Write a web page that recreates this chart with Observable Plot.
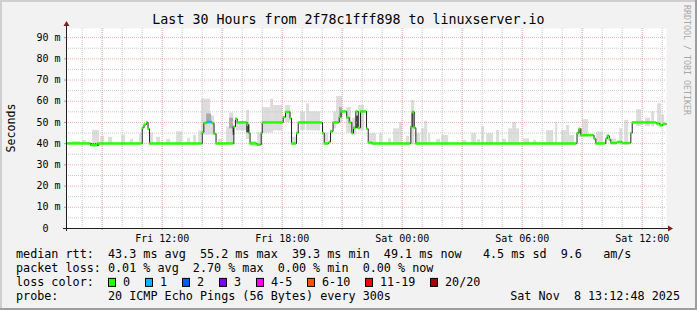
<!DOCTYPE html>
<html><head><meta charset="utf-8">
<script src="https://cdn.jsdelivr.net/npm/d3@7"></script>
<script src="https://cdn.jsdelivr.net/npm/@observablehq/plot@0.6"></script>
<style>
html,body{margin:0;padding:0;background:#f2f2f2;}
#chart{position:relative;width:697px;height:310px;overflow:hidden;}
svg text{white-space:pre;}
</style></head><body><div id="chart"></div>
<script>
// ---------- data ----------
const title = "Last 30 Hours from 2f78c1fff898 to linuxserver.io";
const yLabel = "Seconds";
const watermark = "RRDTOOL / TOBI OETIKER";
// hours since Fri Nov 7 2025 00:00
const rangeStart = 7 + 12.8 / 60;   // Fri 07:12:48
const rangeEnd = 37 + 12.8 / 60;    // Sat 13:12:48

// median rtt (ms), step breakpoints
const medHour = [7.21, 8.45, 8.78, 11.0, 11.09, 11.215, 11.29, 11.365, 14.0, 14.08, 14.25, 14.5, 14.59, 14.69,
  15.58, 15.665, 15.75, 16.25, 16.33, 16.39, 16.74, 16.95, 17.0, 18.05, 18.165, 18.39, 18.465, 18.715, 18.8,
  20.015, 20.1, 20.34, 20.415, 20.54, 20.85, 20.94, 21.225, 21.35, 21.48, 21.565, 21.68, 21.8, 21.915, 22.215,
  22.3, 22.5, 24.43, 24.5, 24.6, 24.68, 32.74, 32.84, 32.93, 33.59, 33.68, 34.18, 34.25, 34.35, 34.43, 34.75,
  35.0, 35.43, 35.5, 36.72, 36.89, 37.04];
const medValue = [40.1, 39.3, 40.1, 47.5, 49, 50, 47, 40.1, 45.4, 49.8, 50.2, 49.6, 44.7, 40.1,
  48, 51.7, 50, 49, 45, 40.1, 39.5, 45, 50, 52.5, 55, 52, 40.1, 45, 50,
  45, 40.1, 40.8, 45.8, 50, 52.6, 55.2, 52.3, 50, 45, 47.5, 55.2, 47.5, 55.2, 47,
  40.5, 40.1, 48, 55, 47.5, 40.1, 45, 47, 44, 42.3, 40.1, 42.3, 43.8, 42, 40.3, 40.8,
  40.3, 45, 50, 49.5, 48.7, 49.3];

// packet loss events (pings lost out of 20)
const lossStart = [14.25];
const lossEnd = [14.5];
const lossCount = [1];

// smoke (ping spread), light layer
const smokeStart = [7.52, 8.02, 8.52, 8.92, 9.32, 9.97, 10.42, 10.87, 11.42, 11.72, 12.22, 12.72, 13.27, 13.57, 13.82,
  13.97, 14.42, 14.82, 15.22, 15.37, 15.72, 16.22, 16.42, 16.77, 17.02, 17.42, 17.57, 18.17, 18.52, 18.92, 19.22,
  19.37, 20.12, 20.57, 20.72, 21.22, 21.52, 21.82, 22.37, 22.87, 23.32, 23.57, 23.87, 24.22, 24.47, 24.72, 24.97,
  25.12, 25.32, 25.72, 25.97, 27.02, 27.47, 27.77, 27.97, 28.22, 28.72, 29.02, 29.32, 29.52, 29.72, 30.07, 30.57,
  31.22, 31.67, 31.97, 32.22, 32.37, 32.82, 33.02, 33.72, 34.47, 34.87, 35.12, 35.72, 36.17, 36.47, 36.77, 36.97];
const smokeEnd = [7.92, 8.22, 8.87, 9.12, 9.52, 10.17, 10.57, 10.97, 11.57, 11.92, 12.42, 13.02, 13.42, 13.72, 13.97,
  14.42, 14.62, 15.02, 15.37, 15.57, 16.22, 16.37, 16.72, 16.97, 17.42, 17.57, 18.02, 18.42, 18.72, 19.17, 19.37,
  19.92, 20.32, 20.72, 21.02, 21.47, 21.72, 22.12, 22.72, 23.02, 23.47, 23.87, 24.02, 24.37, 24.62, 24.92, 25.12,
  25.27, 25.42, 25.92, 26.32, 27.22, 27.72, 27.92, 28.12, 28.57, 28.87, 29.22, 29.52, 29.72, 29.87, 30.37, 30.72,
  31.57, 31.77, 32.22, 32.37, 32.62, 33.02, 33.32, 34.07, 34.72, 35.02, 35.32, 35.97, 36.42, 36.62, 36.97, 37.12];
const smokeLow = [39.5, 39.5, 38.5, 39, 39.5, 39.5, 39.5, 39.5, 39.5, 39.5, 39.5, 39.5, 39.5, 39.5, 39.5,
  44, 44, 39, 39.5, 39.5, 46, 42, 38.5, 39, 45, 45, 46, 50, 39, 46, 46,
  46, 39, 47, 50, 45, 44, 46, 39.3, 39.3, 39.3, 39.3, 39.3, 39.3, 39.5, 39.3, 39.3,
  39.3, 39.3, 39.5, 39.3, 39.5, 39.3, 39.5, 39.3, 39.3, 39.3, 39.5, 39.3, 39.3, 39.3, 39.5, 39.5,
  39.3, 39.3, 39.3, 39.3, 39.3, 43, 43, 39.3, 39.5, 39.3, 39.3, 48, 48, 48, 48, 48];
const smokeHigh = [41, 41.5, 46.3, 43.5, 43, 44, 42, 44.5, 45, 43, 42, 45.6, 42.5, 44, 46,
  61, 53, 42, 47.8, 54.4, 50.5, 55.7, 41, 45, 57, 61, 58, 58, 43, 55, 58.8,
  55, 45, 55, 62.3, 57, 52, 58, 44.7, 44.7, 42.3, 47, 50, 43.5, 60.4, 44.7, 47,
  50.6, 44.7, 42, 43.9, 41.5, 44.7, 42, 48, 44.7, 46.2, 42, 47, 50, 47, 42.3, 41.5,
  46.2, 50, 46.2, 48.6, 43.9, 47, 51.3, 45.5, 42.3, 47, 51, 56, 52, 55, 58.8, 53.5];

// smoke, medium layer
const midStart = [14.22, 15.37, 20.87, 24.47];
const midEnd = [14.47, 15.57, 21.02, 24.62];
const midLow = [50, 47, 52, 47];
const midHigh = [54, 52, 57, 54];

// smoke, dark layer
const darkStart = [8.42, 15.54, 16.22, 21.72];
const darkEnd = [8.87, 15.62, 16.37, 21.82];
const darkLow = [38.8, 44, 45, 47];
const darkHigh = [40, 48, 49, 53];

const yTicks = [0, 10, 20, 30, 40, 50, 60, 70, 80, 90];
const yMinor = [5, 15, 25, 35, 45, 55, 65, 75, 85];
const xLabelHours = [12, 18, 24, 30, 36];
const xMajorHours = [9, 12, 15, 18, 21, 24, 27, 30, 33, 36];
const xMinorHours = d3.range(8, 38);

const legendLines = [
  "median rtt:  43.3 ms avg  55.2 ms max  39.3 ms min  49.1 ms now   4.5 ms sd  9.6   am/s",
  "packet loss: 0.01 % avg  2.70 % max  0.00 % min  0.00 % now",
  "loss color:",
  "probe:       20 ICMP Echo Pings (56 Bytes) every 300s"
];
const lossLabels = ["0", "1", "2", "3", "4-5", "6-10", "11-19", "20/20"];
const lossColors = ["#26ff00", "#00b8ff", "#0059ff", "#7e00ff", "#ff00ff", "#ff5500", "#ff0000", "#a10000"];
const dateText = "Sat Nov  8 13:12:48 2025";

// ---------- chart ----------
const mono = "'DejaVu Sans Mono', 'Liberation Mono', monospace";
const base = Date.UTC(2025, 10, 7);
const T = h => new Date(base + h * 3600e3);
const n = medHour.length;
const segEnd = i => (i + 1 < n ? medHour[i + 1] : rangeEnd);
function lossClass(i) {
  const mid = (medHour[i] + segEnd(i)) / 2;
  for (let k = 0; k < lossStart.length; k++) {
    if (mid >= lossStart[k] && mid < lossEnd[k]) {
      const c = lossCount[k];
      return c <= 3 ? c : c <= 5 ? 4 : c <= 10 ? 5 : c <= 19 ? 6 : 7;
    }
  }
  return 0;
}
const rectLayer = (s, e, lo, hi, fill) =>
  Plot.rect(d3.range(s.length), {
    x1: i => T(s[i]), x2: i => T(e[i]), y1: i => lo[i], y2: i => hi[i], fill
  });

const plot = Plot.plot({
  width: 697, height: 310,
  marginLeft: 66, marginRight: 31, marginTop: 28, marginBottom: 82,
  style: {background: "transparent", fontFamily: mono, color: "#000", overflow: "visible"},
  x: {type: "utc", domain: [T(rangeStart), T(rangeEnd)]},
  y: {domain: [0, 94.3]},
  marks: [
    Plot.frame({fill: "#ffffff", stroke: null}),
    rectLayer(smokeStart, smokeEnd, smokeLow, smokeHigh, "#dcdcdc"),
    rectLayer(midStart, midEnd, midLow, midHigh, "#a9a9a9"),
    rectLayer(darkStart, darkEnd, darkLow, darkHigh, "#4a4a4a"),
    Plot.gridX(xMinorHours.map(T), {stroke: "#c8c8c8", strokeOpacity: 1, strokeDasharray: "1,1"}),
    Plot.gridY(yMinor, {stroke: "#c8c8c8", strokeOpacity: 1, strokeDasharray: "1,1"}),
    Plot.gridX(xMajorHours.map(T), {stroke: "#eeb0b0", strokeOpacity: 1, strokeDasharray: "1,1"}),
    Plot.gridY(yTicks.slice(1), {stroke: "#eeb0b0", strokeOpacity: 1, strokeDasharray: "1,1"}),
    Plot.line(d3.range(n + 1), {
      x: i => T(i < n ? medHour[i] : rangeEnd), y: i => medValue[Math.min(i, n - 1)],
      curve: "step-after", stroke: "#202020", strokeWidth: 1
    }),
    Plot.ruleY(d3.range(n), {
      y: i => medValue[i], x1: i => T(medHour[i]), x2: i => T(segEnd(i)),
      stroke: i => lossColors[lossClass(i)], strokeWidth: 2.5
    }),
    Plot.axisY(yTicks, {
      tickSize: 2, tickPadding: 4, fontSize: 10, fill: "#000", stroke: "#e08a8a",
      tickFormat: d => (d === 0 ? "0\u00a0\u00a0" : `${d} m`), label: null
    }),
    Plot.axisX(xMajorHours.map(T), {tickSize: 2, stroke: "#e08a8a", tickFormat: () => "", label: null}),
    Plot.axisX(xLabelHours.map(T), {
      tickSize: 0, tickPadding: 6, fontSize: 10, fill: "#000",
      tickFormat: d3.utcFormat("%a %H:%M"), label: null
    })
  ]
});
document.getElementById("chart").appendChild(plot);

// ---------- decorations: axis lines, arrows, texts, legend, border ----------
const svg = d3.select(plot);
const xs = plot.scale("x"), ys = plot.scale("y");
const X0 = xs.apply(T(rangeStart)), X1 = xs.apply(T(rangeEnd));
const Y0 = ys.apply(0), Ytop = ys.apply(94.3);
const g = svg.append("g").attr("text-anchor", "start");
g.append("line").attr("x1", X0 + 0.5).attr("x2", X0 + 0.5).attr("y1", Y0 + 3).attr("y2", Ytop - 3)
  .attr("stroke", "#1f1f1f");
g.append("line").attr("x1", X0 - 3).attr("x2", X1 + 2).attr("y1", Y0 + 0.5).attr("y2", Y0 + 0.5)
  .attr("stroke", "#1f1f1f");
g.append("path").attr("d", `M${X0 - 2.5},${Ytop - 2} L${X0 + 3.5},${Ytop - 2} L${X0 + 0.5},${Ytop - 7} Z`)
  .attr("fill", "#801f1f");
g.append("path").attr("d", `M${X1 + 2},${Y0 - 2.5} L${X1 + 2},${Y0 + 3.5} L${X1 + 7},${Y0 + 0.5} Z`)
  .attr("fill", "#801f1f");

const txt = (x, y, s, size, opts = {}) => {
  const t = g.append("text").attr("x", x).attr("y", y).text(s)
    .attr("font-family", mono).attr("font-size", size).attr("fill", opts.fill || "#000")
    .attr("text-anchor", opts.anchor || "start");
  if (opts.transform) t.attr("transform", opts.transform).attr("x", 0).attr("y", 0);
  return t;
};
txt(348.5, 23.5, title, 13.3, {anchor: "middle"});
txt(0, 0, yLabel, 11.6, {anchor: "middle", transform: `translate(15,${(Y0 + Ytop) / 2}) rotate(-90)`});
txt(0, 0, watermark, 8.3, {fill: "#a8a8a8", transform: "translate(684,5) rotate(90)"});

const lx = 16, cw = 7, lh = 13.8, lb = 258.3, lfs = 11.75;
legendLines.forEach((s, k) => txt(lx, lb + k * lh, s, lfs));
let sx = 108;
const sy = lb + 2 * lh;
lossLabels.forEach((lab, k) => {
  g.append("rect").attr("x", sx + 0.5).attr("y", sy - 7.5).attr("width", 7).attr("height", 8)
    .attr("fill", lossColors[k]).attr("stroke", "#000");
  txt(sx + 15, sy, lab, lfs);
  sx = sx + 15 + lab.length * cw + 15;
});
txt(680, lb + 3 * lh, dateText, lfs, {anchor: "end"});

// 3D border
g.append("rect").attr("x", 0).attr("y", 0).attr("width", 697).attr("height", 2).attr("fill", "#cfcfcf");
g.append("rect").attr("x", 0).attr("y", 0).attr("width", 2).attr("height", 310).attr("fill", "#cfcfcf");
g.append("rect").attr("x", 0).attr("y", 308).attr("width", 697).attr("height", 2).attr("fill", "#9e9e9e");
g.append("rect").attr("x", 695).attr("y", 0).attr("width", 2).attr("height", 310).attr("fill", "#9e9e9e");
</script></body></html>
